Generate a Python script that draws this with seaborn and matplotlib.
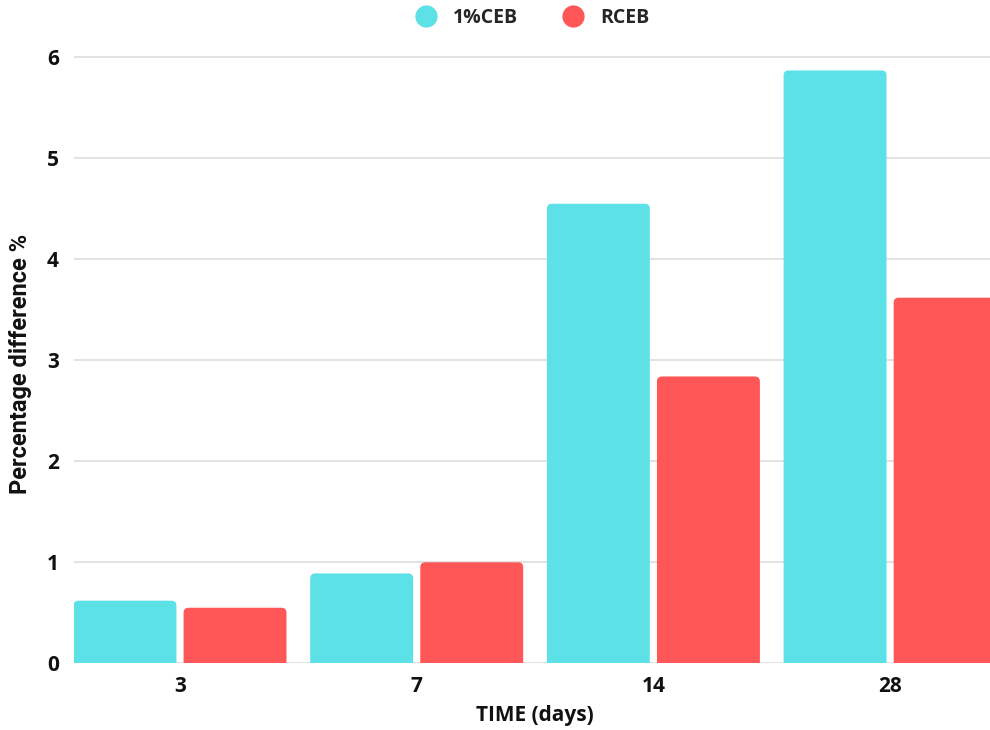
import matplotlib
matplotlib.use("Agg")
import matplotlib.pyplot as plt
from matplotlib.patches import FancyBboxPatch
from matplotlib.lines import Line2D
import seaborn as sns
import pandas as pd

# Curing time categories and percentage differences per mix
days = ["3", "7", "14", "28"]
ceb_1pct = [0.62, 0.89, 4.55, 5.87]
rceb = [0.55, 1.00, 2.84, 3.62]
series_names = ["1%CEB", "RCEB"]
colors = ["#5CE1E6", "#FF5757"]

df = pd.DataFrame({
    "TIME (days)": days * 2,
    "value": ceb_1pct + rceb,
    "series": [series_names[0]] * len(days) + [series_names[1]] * len(days),
})

sns.set_theme(style="white")
plt.rcParams["font.family"] = ["Open Sans", "DejaVu Sans"]

fig = plt.figure(figsize=(9.9, 7.3), dpi=100)
W, H = 990, 730
px_per_cat = 236.7
px_per_unit = 101.0
x0_px = 180.0          # pixel x of first category
left_px = 74.0
xlim = (-(x0_px - left_px) / px_per_cat, 3.5)
ylim = (0, 6.4)
bottom_px = 663.3
ax_w = (xlim[1] - xlim[0]) * px_per_cat
ax_h = (ylim[1] - ylim[0]) * px_per_unit
ax = fig.add_axes([left_px / W, (H - bottom_px) / H, ax_w / W, ax_h / H])

sns.barplot(data=df, x="TIME (days)", y="value", hue="series",
            palette=colors, width=0.93, gap=0.065, ax=ax,
            legend=False, saturation=1, linewidth=0)

ax.set_xlim(*xlim)
ax.set_ylim(*ylim)

# Replace plain rectangles with rounded-top bars
r_x = 5.0 / px_per_cat
aspect = (5.0 / px_per_unit) / r_x
rects = list(ax.patches)
for p in rects:
    x, y = p.get_x(), p.get_y()
    w, h = p.get_width(), p.get_height()
    fc = p.get_facecolor()
    p.remove()
    ext = 0.2
    fb = FancyBboxPatch((x, y - ext), w, h + ext,
                        boxstyle=f"round,pad=0,rounding_size={r_x}",
                        mutation_aspect=aspect, facecolor=fc,
                        edgecolor="none", zorder=2)
    ax.add_patch(fb)

ax.set_yticks(range(0, 7))
ax.yaxis.grid(True, color="#DADADA", linewidth=1.1)
ax.set_axisbelow(True)
for s in ax.spines.values():
    s.set_visible(False)
ax.tick_params(axis="both", length=0, labelsize=15)
ax.tick_params(axis="y", pad=11)
ax.tick_params(axis="x", pad=9)
for lab in ax.get_xticklabels() + ax.get_yticklabels():
    lab.set_fontweight("bold")
    lab.set_color("#111111")

ax.set_xlabel("")
ax.set_ylabel("")
fig.text(535 / W, 1 - 716 / H, "TIME (days)", ha="center", va="center",
         fontsize=15, fontweight="bold", color="#111111")
fig.text(21 / W, 1 - 364 / H, "Percentage difference %", ha="center",
         va="center", rotation=90, fontsize=17, fontweight="semibold",
         family=["Roboto", "Liberation Sans", "DejaVu Sans"], color="#111111")

handles = [Line2D([], [], marker="o", linestyle="none", markersize=16,
                  markerfacecolor=c, markeredgecolor="none") for c in colors]
fig.legend(handles, series_names, loc="center", bbox_to_anchor=(528 / W, 1 - 18 / H),
           ncol=2, frameon=False, handletextpad=0.4,
           columnspacing=1.8, prop={"weight": "bold", "size": 14})

fig.savefig("out.png", dpi=100)
